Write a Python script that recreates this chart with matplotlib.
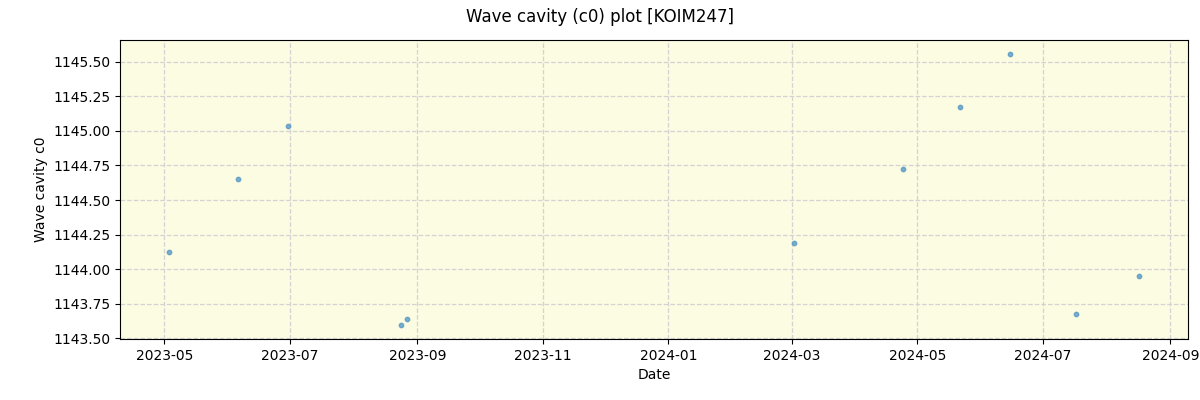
"""
Wave cavity (c0) scatter plot for one station
"""
import matplotlib
matplotlib.use("Agg")
import matplotlib.pyplot as plt
import pandas as pd

station = "KOIM247"

dates = [
    "2023-05-03", "2023-06-06", "2023-06-30", "2023-08-24", "2023-08-27",
    "2024-03-02", "2024-04-24", "2024-05-22", "2024-06-15", "2024-07-17",
    "2024-08-17",
]
c0_values = [
    1144.128, 1144.655, 1145.038, 1143.594, 1143.637,
    1144.186, 1144.727, 1145.175, 1145.558, 1143.673,
    1143.948,
]

dates = pd.to_datetime(dates)

fig, ax = plt.subplots(figsize=(12, 4), dpi=100)
fig.subplots_adjust(left=0.1, right=0.99, top=0.9, bottom=0.1525)

ax.set_facecolor("#fcfce2")
ax.scatter(dates, c0_values, s=10, color="#4f94c4", alpha=0.75, zorder=3)
ax.grid(True, linestyle="--", color="lightgray", linewidth=0.9)

ax.set_xlabel("Date")
ax.set_ylabel("Wave cavity c0")
ax.yaxis.set_major_formatter(matplotlib.ticker.FormatStrFormatter("%.2f"))
fig.suptitle(f"Wave cavity (c0) plot [{station}]")

fig.savefig("out.png")
